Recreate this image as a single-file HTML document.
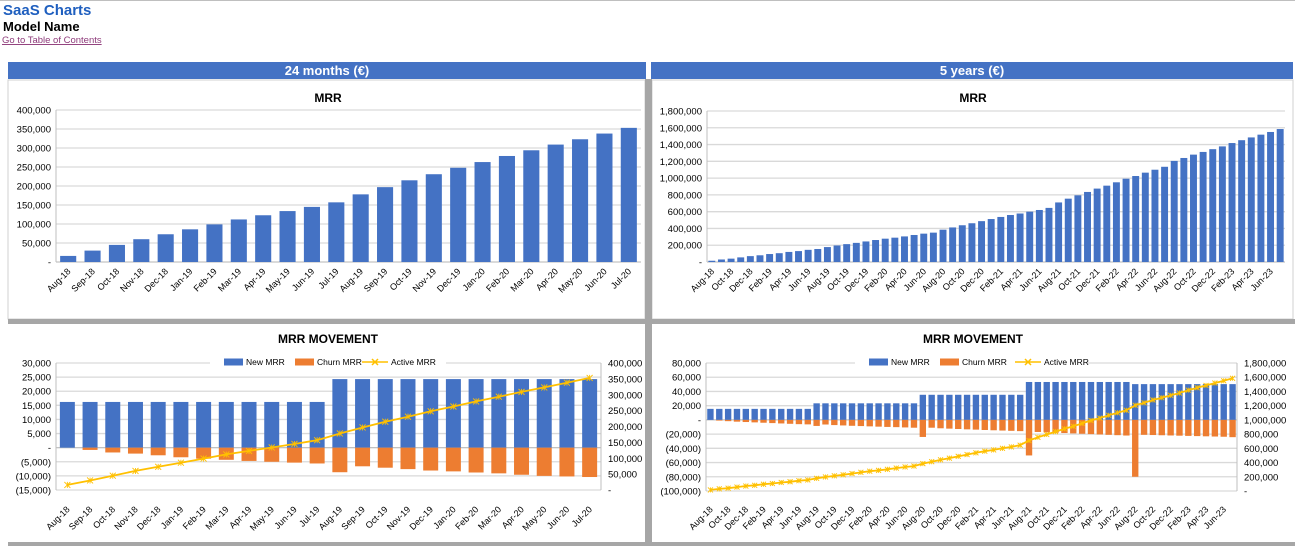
<!DOCTYPE html>
<html><head><meta charset="utf-8"><style>
body{margin:0;width:1295px;height:546px;overflow:hidden;background:#fff;font-family:"Liberation Sans",sans-serif}
svg{display:block}
</style></head><body>
<svg id="s" width="1295" height="546" xmlns="http://www.w3.org/2000/svg" font-family="Liberation Sans, sans-serif">
<line x1="0" y1="0.5" x2="1295" y2="0.5" stroke="#bfbfbf"/>
<text x="3" y="15" font-size="15" font-weight="bold" fill="#1f5fbf">SaaS Charts</text>
<text x="3" y="31" font-size="13" font-weight="bold" fill="#000">Model Name</text>
<text x="2" y="43" font-size="9.5" fill="#8e3a7a" text-decoration="underline">Go to Table of Contents</text>
<rect x="8" y="80" width="637" height="239" fill="#fff" stroke="#d0d0d0"/>
<rect x="652" y="80" width="641" height="239" fill="#fff" stroke="#d0d0d0"/>
<rect x="645" y="79" width="7" height="467" fill="#a6a6a6"/>
<rect x="8" y="319" width="1287" height="5" fill="#a6a6a6"/>
<rect x="8" y="542" width="1287" height="4" fill="#a6a6a6"/>
<rect x="8" y="62" width="638" height="17" fill="#4472c4"/>
<text x="327" y="75" font-size="13" font-weight="bold" fill="#fff" text-anchor="middle">24 months (€)</text>
<rect x="651" y="62" width="642" height="17" fill="#4472c4"/>
<text x="972" y="75" font-size="13" font-weight="bold" fill="#fff" text-anchor="middle">5 years (€)</text>
<text x="328" y="102" font-size="12" font-weight="bold" text-anchor="middle">MRR</text>
<text x="973" y="102" font-size="12" font-weight="bold" text-anchor="middle">MRR</text>
<text x="328" y="343" font-size="12" font-weight="bold" text-anchor="middle">MRR MOVEMENT</text>
<text x="973" y="343" font-size="12" font-weight="bold" text-anchor="middle">MRR MOVEMENT</text>
</svg>
<script>
const months24 = ["Aug-18","Sep-18","Oct-18","Nov-18","Dec-18","Jan-19","Feb-19","Mar-19","Apr-19","May-19","Jun-19","Jul-19","Aug-19","Sep-19","Oct-19","Nov-19","Dec-19","Jan-20","Feb-20","Mar-20","Apr-20","May-20","Jun-20","Jul-20"];
const mrr24 = [16000,30000,45000,60000,73000,86000,99000,112000,123000,134000,145000,157000,178000,197000,215000,231000,248000,263000,279000,294000,309000,323000,338000,353000];
const newMrr24 = [16200,16200,16200,16200,16200,16200,16200,16200,16200,16200,16200,16200,24300,24300,24300,24300,24300,24300,24300,24300,24300,24300,24300,24300];
const churn24 = [0,-800,-1700,-2100,-2700,-3400,-3900,-4300,-4700,-5000,-5300,-5600,-8700,-6600,-7100,-7600,-8100,-8400,-8800,-9100,-9600,-10000,-10200,-10400];
const months60 = ["Aug-18","Sep-18","Oct-18","Nov-18","Dec-18","Jan-19","Feb-19","Mar-19","Apr-19","May-19","Jun-19","Jul-19","Aug-19","Sep-19","Oct-19","Nov-19","Dec-19","Jan-20","Feb-20","Mar-20","Apr-20","May-20","Jun-20","Jul-20","Aug-20","Sep-20","Oct-20","Nov-20","Dec-20","Jan-21","Feb-21","Mar-21","Apr-21","May-21","Jun-21","Jul-21","Aug-21","Sep-21","Oct-21","Nov-21","Dec-21","Jan-22","Feb-22","Mar-22","Apr-22","May-22","Jun-22","Jul-22","Aug-22","Sep-22","Oct-22","Nov-22","Dec-22","Jan-23","Feb-23","Mar-23","Apr-23","May-23","Jun-23","Jul-23"];
const mrr60 = [15000,30000,40000,55000,70000,80000,95000,105000,120000,130000,145000,155000,178000,197000,213000,228000,245000,262000,278000,290000,305000,322000,338000,350000,385000,412000,438000,462000,487000,512000,537000,560000,578000,600000,620000,645000,710000,755000,795000,835000,875000,910000,950000,993000,1025000,1065000,1100000,1135000,1205000,1240000,1280000,1312000,1345000,1378000,1418000,1452000,1485000,1518000,1550000,1585000];
const newMrr60 = [15500,15500,15500,15500,15500,15500,15500,15500,15500,15500,15500,15500,23300,23300,23300,23300,23300,23300,23300,23300,23300,23300,23300,23300,35300,35300,35300,35300,35300,35300,35300,35300,35300,35300,35300,35300,53300,53300,53300,53300,53300,53300,53300,53300,53300,53300,53300,53300,50300,50300,50300,50300,50300,50300,50300,50300,50300,50300,50300,50300];
const churn60 = [0,-1000,-1800,-2500,-3000,-3500,-4000,-4500,-5000,-5500,-6000,-6300,-8500,-6500,-7300,-7800,-8300,-8700,-9100,-9500,-9900,-10200,-10600,-11000,-24000,-11000,-11800,-12300,-12800,-13300,-13700,-14200,-14600,-15000,-15400,-15800,-50000,-17000,-17500,-18000,-18500,-19000,-19500,-20000,-20500,-21000,-21500,-22000,-80000,-21000,-21300,-21600,-21900,-22200,-22500,-22800,-23100,-23400,-23700,-24300];
const ticksMrr24 = [0,50000,100000,150000,200000,250000,300000,350000,400000];
const ticksMrr60 = [0,200000,400000,600000,800000,1000000,1200000,1400000,1600000,1800000];
const ticksMov24L = [-15000,-10000,-5000,0,5000,10000,15000,20000,25000,30000];
const ticksMov24R = [0,50000,100000,150000,200000,250000,300000,350000,400000];
const ticksMov60L = [-100000,-80000,-60000,-40000,-20000,0,20000,40000,60000,80000];
const ticksMov60R = [0,200000,400000,600000,800000,1000000,1200000,1400000,1600000,1800000];

const NS="http://www.w3.org/2000/svg";
const svg=document.getElementById('s');
function mk(tag,attrs){const e=document.createElementNS(NS,tag);for(const k in attrs)e.setAttribute(k,attrs[k]);svg.appendChild(e);return e;}
function fmt(v){if(v===0)return '-';const s=Math.abs(v).toLocaleString('en-US');return v<0?'('+s+')':s;}
function scale(d0,d1,r0,r1){return v=>r0+(v-d0)*(r1-r0)/(d1-d0);}

function chart(o){
  const n=o.cats.length, bw=(o.x1-o.x0)/n;
  const xc=i=>o.x0+bw*(i+0.5);
  const yL=scale(o.lt[0],o.lt[o.lt.length-1],o.y1,o.y0);
  o.lt.forEach(t=>{
    const y=yL(t);
    const g=mk('line',{x1:o.x0,x2:o.x1,y1:y,y2:y,stroke:'#d9d9d9','stroke-width':1.3});
    
    
    const tl=mk('text',{x:o.x0-5,y:y+3.5,'font-size':9.5,'text-anchor':'end',fill:'#000'});
    tl.textContent=fmt(t);
    
    
  });
  const ax=mk('line',{x1:o.x0,x2:o.x0,y1:o.y0,y2:o.y1,stroke:'#bfbfbf'});
  
  
  if(o.rt){
    const ax2=mk('line',{x1:o.x1,x2:o.x1,y1:o.y0,y2:o.y1,stroke:'#bfbfbf'});
    
    
    const yR=scale(o.rt[0],o.rt[o.rt.length-1],o.y1,o.y0);
    o.rt.forEach(t=>{
      const tl=mk('text',{x:o.x1+7,y:yR(t)+3.5,'font-size':9.5,fill:'#000'});
      tl.textContent=fmt(t);
      
      
    });
    o.yR=yR;
  }
  const zy=yL(0);
  const za=mk('line',{x1:o.x0,x2:o.x1,y1:zy,y2:zy,stroke:'#bfbfbf'});
  
  
  const w=bw*o.bf;
  o.bars.forEach(s=>{
    s.vals.forEach((v,i)=>{
      const y=yL(v);
      const r=mk('rect',{x:xc(i)-w/2,y:Math.min(y,zy),width:w,height:Math.abs(zy-y),fill:s.color});
      
      
    });
  });
  if(o.line){
    const pts=o.line.map((v,i)=>xc(i).toFixed(1)+','+o.yR(v).toFixed(1)).join(' ');
    const pl=mk('polyline',{points:pts,fill:'none',stroke:'#ffc000','stroke-width':1.8});
    
    
    o.line.forEach((v,i)=>{
      const x=xc(i),y=o.yR(v),m=o.mk;
      const p=mk('path',{d:`M${x-m},${y-m}L${x+m},${y+m}M${x-m},${y+m}L${x+m},${y-m}M${x},${y-m}L${x},${y+m}`,stroke:'#ffc000','stroke-width':0.9});
      
      
    });
  }
  o.cats.forEach((c,i)=>{
    if(i%o.step)return;
    const x=xc(i)+3,y=o.ly;
    const t=mk('text',{x:x,y:y,'font-size':9,'text-anchor':'end',transform:`rotate(-45 ${x} ${y})`,fill:'#000'});
    t.textContent=c;
    
    
  });
}
function legend(x0,y,xs){
  const bg=mk('rect',{x:x0,y:y-7,width:xs.w,height:13,fill:'#fff'});
  
  
  const a=mk('rect',{x:xs.a,y:y-3.5,width:19,height:7,fill:'#4472c4'});
  
  
  const at=mk('text',{x:xs.a+22,y:y+3,'font-size':8.5});at.textContent='New MRR';
  
  
  const b=mk('rect',{x:xs.b,y:y-3.5,width:19,height:7,fill:'#ed7d31'});
  
  
  const bt=mk('text',{x:xs.b+22,y:y+3,'font-size':8.5});bt.textContent='Churn MRR';
  
  
  const c=mk('path',{d:`M${xs.c},${y}h26M${xs.c+10},${y-3}l6,6M${xs.c+10},${y+3}l6,-6`,stroke:'#ffc000','stroke-width':1.5});
  
  
  const ct=mk('text',{x:xs.c+29,y:y+3,'font-size':8.5});ct.textContent='Active MRR';
  
  
}
chart({cats:months24,x0:56,x1:641,y0:110,y1:262,lt:ticksMrr24,bf:0.66,bars:[{vals:mrr24,color:'#4472c4',name:'mrr'}],step:1,ly:272});
chart({cats:months60,x0:707,x1:1285,y0:111,y1:262,lt:ticksMrr60,bf:0.72,bars:[{vals:mrr60,color:'#4472c4',name:'mrr'}],step:2,ly:272});
chart({cats:months24,x0:56,x1:601,y0:363,y1:490,lt:ticksMov24L,rt:ticksMov24R,bf:0.66,bars:[{vals:newMrr24,color:'#4472c4',name:'new-mrr'},{vals:churn24,color:'#ed7d31',name:'churn-mrr'}],line:mrr24,mk:3,step:1,ly:510});
chart({cats:months60,x0:706,x1:1237,y0:363,y1:491,lt:ticksMov60L,rt:ticksMov60R,bf:0.72,bars:[{vals:newMrr60,color:'#4472c4',name:'new-mrr'},{vals:churn60,color:'#ed7d31',name:'churn-mrr'}],line:mrr60,mk:2.5,step:2,ly:510});
legend(210,362,{w:236,a:224,b:295,c:362});
legend(855,362,{w:233,a:869,b:940,c:1015});
</script>
</body></html>
